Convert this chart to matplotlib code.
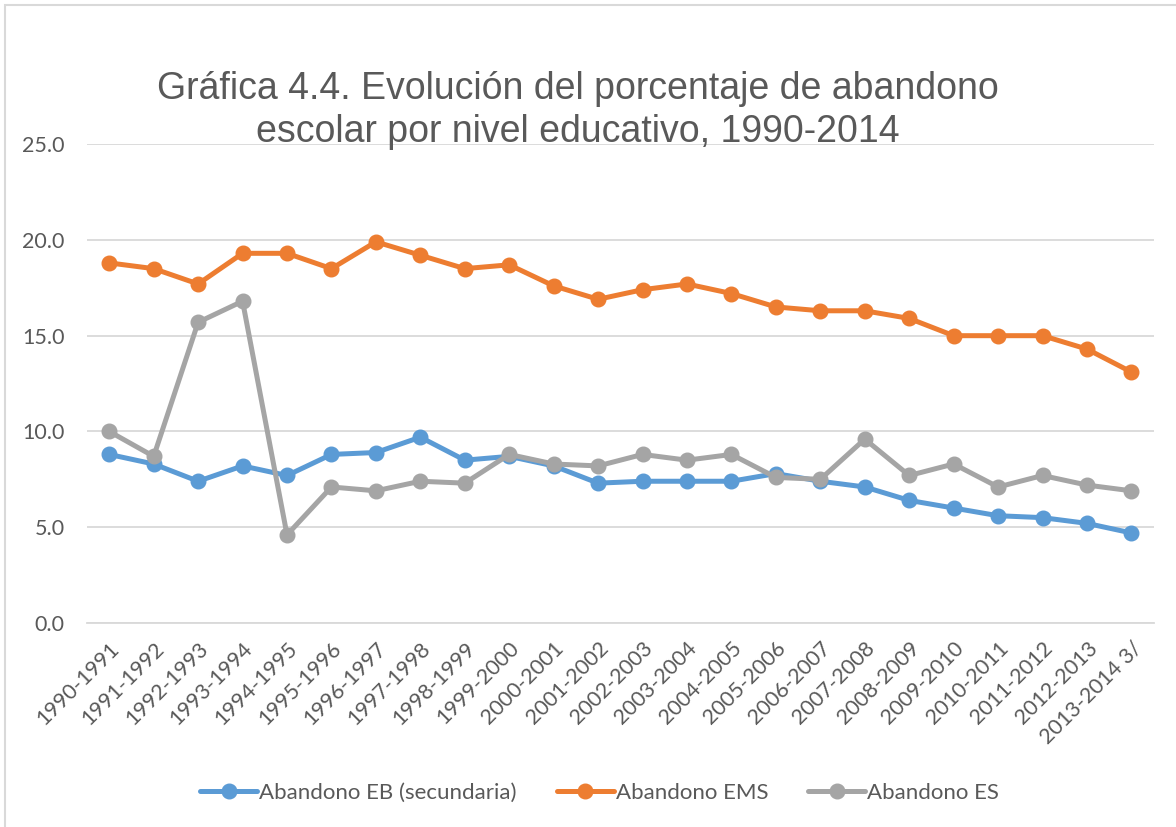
import matplotlib
matplotlib.use("Agg")
import matplotlib.pyplot as plt
from matplotlib.patches import Rectangle

periods = [
    "1990-1991", "1991-1992", "1992-1993", "1993-1994", "1994-1995", "1995-1996",
    "1996-1997", "1997-1998", "1998-1999", "1999-2000", "2000-2001", "2001-2002",
    "2002-2003", "2003-2004", "2004-2005", "2005-2006", "2006-2007", "2007-2008",
    "2008-2009", "2009-2010", "2010-2011", "2011-2012", "2012-2013", "2013-2014 3/",
]
abandono_eb = [8.8, 8.3, 7.4, 8.2, 7.7, 8.8, 8.9, 9.7, 8.5, 8.7, 8.2, 7.3,
               7.4, 7.4, 7.4, 7.8, 7.4, 7.1, 6.4, 6.0, 5.6, 5.5, 5.2, 4.7]
abandono_ems = [18.8, 18.5, 17.7, 19.3, 19.3, 18.5, 19.9, 19.2, 18.5, 18.7, 17.6, 16.9,
                17.4, 17.7, 17.2, 16.5, 16.3, 16.3, 15.9, 15.0, 15.0, 15.0, 14.3, 13.1]
abandono_es = [10.0, 8.7, 15.7, 16.8, 4.6, 7.1, 6.9, 7.4, 7.3, 8.8, 8.3, 8.2,
               8.8, 8.5, 8.8, 7.6, 7.5, 9.6, 7.7, 8.3, 7.1, 7.7, 7.2, 6.9]
series_names = ["Abandono EB (secundaria)", "Abandono EMS", "Abandono ES"]
series_colors = ["#5B9BD5", "#ED7D31", "#A5A5A5"]

text_color = "#595959"
grid_color = "#D9D9D9"
tick_font = "Lato"

fig = plt.figure(figsize=(11.76, 8.27), dpi=100)
ax = fig.add_axes([0.074, 0.2467, 0.907, 0.579])

x = list(range(len(periods)))
for values, name, color in zip([abandono_eb, abandono_ems, abandono_es], series_names, series_colors):
    ax.plot(x, values, color=color, lw=3.6, marker="o", markersize=10.5,
            label=name, solid_capstyle="round", solid_joinstyle="round")

ax.set_xlim(-0.5, len(periods) - 0.5)
ax.set_ylim(0, 25)
ax.set_yticks([0, 5, 10, 15, 20, 25])
ax.set_yticklabels([f"{v:.1f}" for v in [0, 5, 10, 15, 20, 25]],
                   fontsize=15.5, color=text_color, family=tick_font)
ax.set_xticks(x)
ax.set_xticklabels(periods, rotation=45, ha="right", rotation_mode="anchor",
                   fontsize=15.5, color=text_color, family=tick_font)
ax.tick_params(axis="both", length=0)
ax.tick_params(axis="y", pad=16)
ax.tick_params(axis="x", pad=11)
ax.grid(axis="y", color=grid_color, lw=1.3)
ax.set_axisbelow(True)
for side in ["top", "right", "left"]:
    ax.spines[side].set_visible(False)
ax.spines["bottom"].set_color(grid_color)
ax.spines["bottom"].set_linewidth(1.3)

fig.text(0.4915, 0.880, "Gráfica 4.4. Evolución del porcentaje de abandono",
         ha="center", va="baseline", fontsize=27, color=text_color, family="Liberation Sans")
fig.text(0.4915, 0.828, "escolar por nivel educativo, 1990-2014",
         ha="center", va="baseline", fontsize=27, color=text_color, family="Liberation Sans")

leg = fig.legend(loc="center", bbox_to_anchor=(0.51, 0.041), ncol=3, frameon=False,
                 handlelength=2.55, handletextpad=0.1, columnspacing=1.8,
                 prop={"family": tick_font, "size": 16})
for t in leg.get_texts():
    t.set_color(text_color)

fig.patches.append(Rectangle((5 / 1176, -0.1), 1.2, 1.1 - 5 / 827, transform=fig.transFigure,
                             fill=False, edgecolor=grid_color, lw=1.5))

fig.savefig("out.png", dpi=100)
